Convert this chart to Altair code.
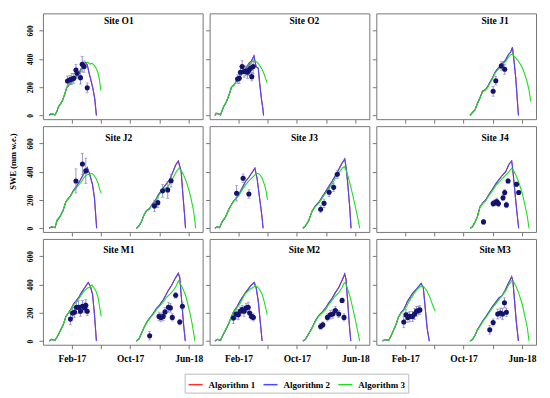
import altair as alt
import pandas as pd

FONT = "Liberation Serif"
FRAME = "#777777"
ERR_COLOR = "#7b7bc0"
PT_COLOR = "#13136e"

SITES = ["O1", "O2", "J1", "J2", "J3", "J4", "M1", "M2", "M3"]
TITLES = ["Site O1", "Site O2", "Site J1", "Site J2", "Site J3", "Site J4", "Site M1", "Site M2", "Site M3"]
ALGORITHMS = ["Algorithm 1", "Algorithm 2", "Algorithm 3"]
ALG_COLORS = ["#ff3030", "#4848ff", "#1ee01e"]
# x = days since 2016-10-01
TICK_DAYS = [123, 243, 365, 488, 608]
TICK_LABELS = ["Feb-17", "", "Oct-17", "", "Jun-18"]
Y_TICKS = [0, 200, 400, 600]

# ---- modelled SWE (day, mm w.e.) ----
O1_S1_A3 = [(29,0),(35,12),(45,10),(54,5),(62,36),(68,67),(76,83),(84,107),(94,155),(101,195),(109,214),(118,224),(128,243),(140,267),(151,290),(162,321),(173,345),(181,369),(189,376),(198,362),(206,369),(214,357),(222,338),(231,305),(238,250),(243,179)]
O1_S1_A2 = [(29,0),(35,10),(45,8),(54,4),(62,33),(68,64),(76,82),(84,105),(94,152),(101,192),(109,212),(118,226),(128,247),(140,272),(151,297),(162,330),(173,362),(181,375),(187,357),(195,298),(203,245),(211,186),(218,119),(225,0)]

O2_S1_A3 = [(25,0),(30,17),(39,14),(48,5),(55,36),(62,67),(72,95),(83,143),(94,202),(104,214),(113,238),(124,262),(135,286),(145,305),(159,333),(169,362),(180,381),(191,386),(200,376),(207,362),(218,333),(228,298),(235,262),(242,231)]
O2_S1_A2 = [(25,0),(30,15),(39,12),(48,4),(55,34),(62,65),(72,93),(83,141),(94,200),(104,215),(113,240),(124,266),(135,292),(145,314),(159,345),(166,369),(177,386),(187,421),(196,345),(205,333),(210,238),(218,119),(224,48),(227,0)]

J1_S2_A3 = [(392,0),(402,24),(413,43),(423,83),(433,119),(444,167),(455,179),(464,195),(474,226),(485,257),(496,298),(507,321),(520,345),(529,362),(540,381),(551,410),(561,429),(568,433),(576,417),(585,400),(596,376),(607,345),(618,298),(629,238),(637,179),(644,100)]
J1_S2_A2 = [(392,0),(402,20),(413,40),(423,86),(433,124),(444,171),(455,181),(464,200),(474,233),(485,264),(496,305),(507,330),(520,352),(529,372),(540,393),(551,429),(561,448),(568,481),(575,381),(582,262),(587,143),(593,0)]

J2_S1_A3 = [(29,0),(39,12),(53,5),(62,59),(73,82),(87,129),(98,188),(108,207),(117,224),(129,259),(140,282),(151,306),(163,329),(173,358),(184,376),(195,381),(206,388),(214,376),(223,353),(232,318),(239,271),(245,247)]
J2_S1_A2 = [(29,0),(39,10),(53,4),(62,56),(73,80),(87,127),(98,186),(108,209),(117,228),(129,264),(140,290),(156,334),(170,376),(187,428),(198,376),(209,306),(217,212),(226,0)]
J2_S2_A3 = [(391,0),(402,19),(412,47),(422,94),(433,122),(446,136),(457,165),(469,188),(481,224),(495,259),(509,282),(522,294),(536,334),(546,365),(557,400),(568,424),(578,405),(587,376),(598,329),(609,271),(619,200),(629,118),(634,47),(637,0)]
J2_S2_A2 = [(391,0),(402,16),(412,45),(422,92),(433,124),(446,140),(457,170),(469,195),(481,232),(495,268),(509,300),(529,341),(543,400),(554,447),(565,475),(577,400),(583,259),(591,94),(595,0)]

J3_S1_A3 = [(25,0),(35,12),(44,5),(55,47),(69,82),(83,136),(97,176),(111,207),(124,231),(138,271),(152,306),(166,334),(180,358),(191,376),(200,388),(210,381),(221,353),(231,306),(238,259),(243,200)]
J3_S1_A2 = [(25,0),(35,10),(44,4),(55,45),(69,80),(83,134),(97,178),(111,210),(124,236),(138,285),(152,330),(166,360),(177,388),(191,424),(200,353),(207,259),(216,141),(221,71),(225,0)]
J3_S2_A3 = [(390,0),(401,19),(415,59),(428,118),(442,153),(456,176),(470,212),(484,247),(498,282),(511,311),(525,353),(539,388),(553,424),(562,435),(569,412),(578,365),(587,306),(597,235),(608,153),(618,71),(626,0)]
J3_S2_A2 = [(390,0),(401,16),(415,57),(428,120),(442,158),(456,182),(470,220),(484,258),(498,296),(511,330),(525,372),(536,405),(550,452),(564,489),(571,412),(578,282),(585,141),(590,0)]

J4_S2_A3 = [(392,0),(402,12),(413,47),(423,82),(433,146),(446,176),(457,193),(471,231),(485,264),(499,301),(513,325),(527,353),(540,376),(554,400),(565,424),(575,400),(585,365),(596,318),(609,247),(620,165),(630,82),(637,0)]
J4_S2_A2 = [(392,0),(402,10),(413,45),(423,84),(433,150),(446,182),(457,200),(471,240),(485,275),(499,314),(513,345),(527,376),(540,400),(554,452),(565,475),(569,424),(577,282),(585,141),(594,0)]

M1_S1_A3 = [(29,0),(39,14),(53,7),(62,31),(73,67),(87,115),(98,174),(109,198),(120,222),(131,258),(142,277),(153,301),(164,330),(175,354),(187,373),(198,382),(206,397),(214,378),(223,354),(232,306),(239,234),(245,174)]
M1_S1_A2 = [(29,0),(39,12),(53,6),(62,29),(73,65),(87,113),(98,172),(109,200),(120,226),(131,264),(142,285),(153,312),(163,342),(177,378),(191,413),(200,387),(209,330),(217,186),(225,0)]
M1_S2_A3 = [(391,0),(402,19),(412,55),(422,91),(433,127),(446,158),(460,186),(474,222),(488,246),(502,277),(515,306),(529,330),(543,354),(554,382),(565,425),(574,402),(585,366),(596,318),(605,258),(615,186),(623,115),(630,43),(634,0)]
M1_S2_A2 = [(391,0),(402,16),(412,53),(422,93),(433,131),(446,163),(460,192),(474,230),(488,256),(502,290),(515,330),(522,354),(536,390),(550,437),(565,478),(571,449),(579,282),(587,115),(594,0)]

M2_S1_A3 = [(25,0),(35,14),(48,5),(58,43),(69,79),(83,127),(94,174),(105,210),(116,234),(127,258),(138,294),(149,330),(160,349),(171,366),(182,378),(193,390),(202,382),(210,366),(221,330),(229,282),(236,234),(242,186)]
M2_S1_A2 = [(25,0),(35,12),(48,4),(58,41),(69,77),(83,125),(94,176),(105,214),(116,240),(131,287),(152,342),(173,390),(188,413),(196,378),(205,282),(213,139),(221,0)]
M2_S2_A3 = [(390,0),(401,14),(415,55),(428,91),(442,139),(456,174),(470,198),(484,222),(498,258),(511,287),(525,318),(539,342),(553,378),(562,413),(569,402),(578,358),(587,306),(597,234),(608,151),(618,67),(626,0)]
M2_S2_A2 = [(390,0),(401,12),(415,53),(428,93),(442,143),(456,180),(470,205),(484,232),(498,270),(511,300),(525,342),(539,378),(553,430),(564,473),(569,437),(576,282),(583,115),(589,0)]

M3_S1_A3 = [(29,0),(40,12),(54,5),(64,38),(73,72),(84,115),(95,167),(106,198),(117,215),(129,246),(140,282),(151,311),(162,342),(173,366),(184,382),(195,390),(203,378),(211,358),(223,318),(231,282),(239,246),(247,210)]
M3_S1_A2 = [(29,0),(40,10),(54,4),(64,36),(73,70),(84,113),(95,169),(106,202),(117,222),(133,282),(153,335),(175,378),(189,406),(198,378),(206,234),(214,91),(223,0)]
M3_S2_A3 = [(392,0),(402,12),(413,43),(423,79),(433,103),(446,139),(457,163),(471,198),(485,234),(499,263),(513,294),(527,325),(540,354),(551,390),(565,425),(575,413),(585,378),(596,330),(609,258),(620,174),(630,91),(637,0)]
M3_S2_A2 = [(392,0),(402,10),(413,41),(423,81),(433,107),(446,145),(457,170),(471,207),(485,244),(499,275),(513,306),(524,318),(538,358),(551,406),(565,454),(570,425),(577,282),(584,139),(593,0)]

# Algorithm 1 coincides with Algorithm 2 at this scale
SERIES = {
    "O1": [("s1", O1_S1_A2, O1_S1_A2, O1_S1_A3)],
    "O2": [("s1", O2_S1_A2, O2_S1_A2, O2_S1_A3)],
    "J1": [("s2", J1_S2_A2, J1_S2_A2, J1_S2_A3)],
    "J2": [("s1", J2_S1_A2, J2_S1_A2, J2_S1_A3), ("s2", J2_S2_A2, J2_S2_A2, J2_S2_A3)],
    "J3": [("s1", J3_S1_A2, J3_S1_A2, J3_S1_A3), ("s2", J3_S2_A2, J3_S2_A2, J3_S2_A3)],
    "J4": [("s2", J4_S2_A2, J4_S2_A2, J4_S2_A3)],
    "M1": [("s1", M1_S1_A2, M1_S1_A2, M1_S1_A3), ("s2", M1_S2_A2, M1_S2_A2, M1_S2_A3)],
    "M2": [("s1", M2_S1_A2, M2_S1_A2, M2_S1_A3), ("s2", M2_S2_A2, M2_S2_A2, M2_S2_A3)],
    "M3": [("s1", M3_S1_A2, M3_S1_A2, M3_S1_A3), ("s2", M3_S2_A2, M3_S2_A2, M3_S2_A3)],
}

# ---- observations (day, SWE, error) ----
O1_OBS_DAY = [105,115,123,131,140,145,159,166,174,187]
O1_OBS_SWE = [243,252,257,262,321,298,267,362,345,195]
O1_OBS_ERR = [35,30,40,35,40,35,45,55,40,35]
O2_OBS_DAY = [119,126,131,138,146,153,160,167,173,178,184]
O2_OBS_SWE = [257,262,305,345,310,314,305,321,333,274,345]
O2_OBS_ERR = [30,35,40,45,40,35,45,40,35,30,50]
J1_OBS_DAY = [488,499,522,536]
J1_OBS_SWE = [171,245,350,326]
J1_OBS_ERR = [35,30,30,35]
J2_OBS_DAY = [140,167,181,466,480,500,521,535]
J2_OBS_SWE = [334,454,405,158,181,264,271,336]
J2_OBS_ERR = [85,75,90,40,35,45,60,45]
J3_OBS_DAY = [115,142,166,464,478,499,518,533]
J3_OBS_SWE = [247,353,242,134,176,254,289,381]
J3_OBS_ERR = [55,30,30,25,30,30,30,30]
J4_OBS_DAY = [448,488,496,503,510,529,536,543,550,585,594]
J4_OBS_SWE = [45,174,181,188,174,216,252,165,334,311,252]
J4_OBS_ERR = [15,20,20,25,20,20,20,20,15,15,15]
M1_OBS_DAY = [117,126,134,142,151,159,167,176,181,187,446,485,493,502,510,524,532,540,554,571,582]
M1_OBS_SWE = [155,198,203,239,239,210,246,234,253,210,38,174,167,174,206,239,234,167,323,134,246]
M1_OBS_ERR = [40,35,35,40,45,35,40,35,40,30,30,30,30,30,30,35,30,25,20,20,25]
M2_OBS_DAY = [102,113,122,130,138,146,155,163,169,177,185,464,473,492,504,514,525,539,553,561]
M2_OBS_SWE = [163,191,186,210,222,210,234,239,198,174,167,103,115,167,186,191,215,191,287,167]
M2_OBS_ERR = [40,35,35,30,30,35,30,35,30,25,25,20,20,25,30,30,30,25,15,25]
M3_OBS_DAY = [117,126,134,142,153,162,170,178,184,474,488,507,518,527,535,543]
M3_OBS_SWE = [134,186,167,174,174,191,210,215,220,79,131,191,198,191,270,203]
M3_OBS_ERR = [40,35,35,35,35,40,35,30,30,30,25,35,35,40,35,30]

OBS = {
    "O1": (O1_OBS_DAY, O1_OBS_SWE, O1_OBS_ERR), "O2": (O2_OBS_DAY, O2_OBS_SWE, O2_OBS_ERR),
    "J1": (J1_OBS_DAY, J1_OBS_SWE, J1_OBS_ERR), "J2": (J2_OBS_DAY, J2_OBS_SWE, J2_OBS_ERR),
    "J3": (J3_OBS_DAY, J3_OBS_SWE, J3_OBS_ERR), "J4": (J4_OBS_DAY, J4_OBS_SWE, J4_OBS_ERR),
    "M1": (M1_OBS_DAY, M1_OBS_SWE, M1_OBS_ERR), "M2": (M2_OBS_DAY, M2_OBS_SWE, M2_OBS_ERR),
    "M3": (M3_OBS_DAY, M3_OBS_SWE, M3_OBS_ERR),
}

# ---- build tables ----
line_rows = []
for site, seasons in SERIES.items():
    for season, a1, a2, a3 in seasons:
        for alg, pts in zip(ALGORITHMS, (a1, a2, a3)):
            for d, v in pts:
                line_rows.append({"site": site, "season": season, "alg": alg, "day": d, "swe": v})
lines_df = pd.DataFrame(line_rows)

obs_rows = []
for site, (days, swes, errs) in OBS.items():
    for d, v, e in zip(days, swes, errs):
        obs_rows.append({"site": site, "day": d, "swe": v, "lo": v - e, "hi": v + e})
obs_df = pd.DataFrame(obs_rows)

label_expr = ""
for d, lab in zip(TICK_DAYS, TICK_LABELS):
    label_expr += f"datum.value == {d} ? '{lab}' : "
label_expr += "''"

X_DOMAIN = [3, 666]
Y_DOMAIN = [-26, 721]
TITLE_X = [76, 95, 119]
TITLE_Y = [8, 11.5, 11.5]


def make_panel(i, site):
    r, c = divmod(i, 3)
    xax = dict(values=TICK_DAYS, labelExpr=label_expr, labels=(r == 2), tickSize=4,
               tickColor=FRAME, domain=False, grid=False, labelFont=FONT,
               labelFontWeight="bold", labelFontSize=9.5, labelPadding=5,
               labelColor="black", labelOverlap=False, title=None)
    yax = dict(values=Y_TICKS, labels=(c == 0), tickSize=4, tickColor=FRAME,
               domain=False, grid=False, labelFont=FONT, labelFontWeight="bold",
               labelFontSize=7.5, labelAngle=270, labelAlign="center",
               labelBaseline="alphabetic", labelPadding=6.5, labelColor="black")
    if r == 1 and c == 0:
        yax.update(title="SWE (mm w.e.)", titleAngle=270, titleX=-30, titleY=35,
                   titleAlign="center", titleBaseline="middle", titleFont=FONT,
                   titleFontWeight="bold", titleFontSize=8.5, titleColor="black")
    else:
        yax.update(title=None)

    def X(f):
        return alt.X(f"{f}:Q", scale=alt.Scale(domain=X_DOMAIN, nice=False, zero=False),
                     axis=alt.Axis(**xax))

    def Y(f):
        return alt.Y(f"{f}:Q", scale=alt.Scale(domain=Y_DOMAIN, nice=False, zero=False),
                     axis=alt.Axis(**yax))

    ld = lines_df[lines_df.site == site]
    od = obs_df[obs_df.site == site]

    lines = alt.Chart(ld).mark_line(strokeWidth=1.1, clip=True).encode(
        x=X("day"), y=Y("swe"),
        color=alt.Color("alg:N", scale=alt.Scale(domain=ALGORITHMS, range=ALG_COLORS),
                        legend=alt.Legend(orient="none", legendX=142, legendY=361,
                                          direction="horizontal", columns=3, title=None,
                                          symbolType="stroke", symbolSize=200,
                                          symbolStrokeWidth=1.5, labelFont=FONT,
                                          labelFontWeight="bold", labelFontSize=9,
                                          labelColor="black", labelOffset=5,
                                          columnPadding=4, padding=3,
                                          strokeColor="#bbbbbb", fillColor="white")),
        detail="season:N",
    )
    bars = alt.Chart(od).mark_rule(color=ERR_COLOR, strokeWidth=0.8).encode(
        x=X("day"), y=Y("lo"), y2="hi:Q")
    cap_lo = alt.Chart(od).mark_tick(color=ERR_COLOR, size=3, thickness=0.8,
                                     orient="horizontal").encode(x=X("day"), y=Y("lo"))
    cap_hi = alt.Chart(od).mark_tick(color=ERR_COLOR, size=3, thickness=0.8,
                                     orient="horizontal").encode(x=X("day"), y=Y("hi"))
    pts = alt.Chart(od).mark_circle(size=26, color=PT_COLOR, opacity=1).encode(
        x=X("day"), y=Y("swe"))
    title = alt.Chart(pd.DataFrame({"label": [TITLES[i]]})).mark_text(
        font=FONT, fontWeight="bold", fontSize=9.5, color="black").encode(
        x=alt.value(TITLE_X[c]), y=alt.value(TITLE_Y[r]), text="label:N")
    return alt.layer(lines, bars, cap_lo, cap_hi, pts, title).properties(width=160, height=106)


panels = [make_panel(i, s) for i, s in enumerate(SITES)]

chart = alt.concat(*panels, columns=3, spacing=7, bounds="flush").resolve_scale(
    color="shared").resolve_legend(color="shared").properties(
    padding={"left": 0, "top": 4, "right": 5, "bottom": 5}
).configure_view(stroke=FRAME, strokeWidth=1)

chart.save("out.html", embed_options={"renderer": "svg", "actions": False})
